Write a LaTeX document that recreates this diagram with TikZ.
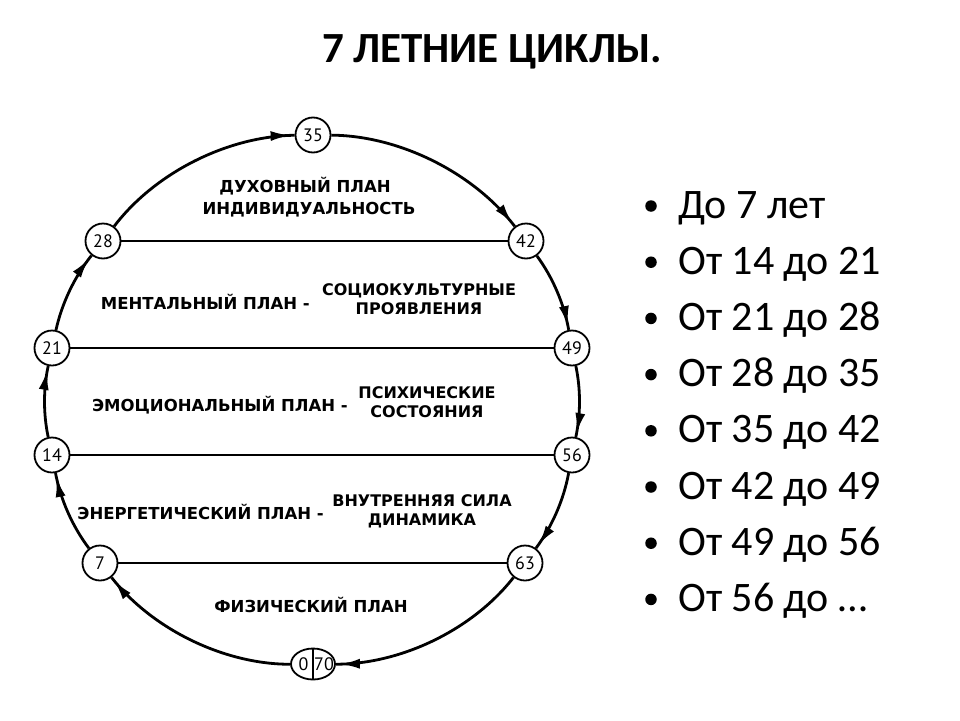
\documentclass[tikz,border=0pt]{standalone}
\usepackage{fontspec}
\setmainfont{Carlito}
\newfontfamily\diagfont{DejaVu Sans}
\newfontfamily\numfont{PT Sans}
\usetikzlibrary{arrows.meta,decorations.markings,shapes.geometric}
\begin{document}
\begin{tikzpicture}[x=1pt,y=1pt,
  agenode/.style={circle,draw,line width=1.8pt,fill=white,minimum size=35pt,inner sep=0pt,
    font=\numfont\fontsize{18}{18}\selectfont},
  ring/.style={line width=2.8pt,looseness=0.85,postaction={decorate},
    decoration={markings,mark=at position -4pt with {\arrow{Latex[length=20pt,width=10pt]}}}},
  divline/.style={line width=1.5pt},
  lbl/.style={inner sep=0pt,font=\diagfont\bfseries\fontsize{16.5}{16.5}\selectfont},
  lbltwo/.style={inner sep=0pt,align=center,font=\diagfont\bfseries\fontsize{16}{19}\selectfont},
  bul/.style={anchor=base west,inner sep=0pt,font=\fontsize{42}{42}\selectfont},
  bulmark/.style={circle,fill=black,inner sep=0pt,minimum size=11.5pt}
]
\useasboundingbox[fill=white] (0,0) rectangle (960,-720);

% title
\node[font=\bfseries\fontsize{43}{43}\selectfont] (title) at (492,-52) {7 ЛЕТНИЕ ЦИКЛЫ.};

% age nodes
\node[agenode] (n35) at (313,-135) {35};
\node[agenode] (n42) at (526,-241) {42};
\node[agenode] (n28) at (103,-241) {28};
\node[agenode] (n21) at (52,-348) {21};
\node[agenode] (n49) at (572,-348) {49};
\node[agenode] (n14) at (52,-455) {14};
\node[agenode] (n56) at (572,-455) {56};
\node[agenode] (n7) at (100,-563) {7};
\node[agenode] (n63) at (525,-563) {63};
\node[ellipse,draw,line width=1.8pt,fill=white,minimum width=44pt,minimum height=31pt,inner sep=0pt] (n70) at (313,-664) {};
\draw[line width=1.4pt] (n70.north) -- (n70.south);
\node[inner sep=0pt,font=\numfont\fontsize{18}{18}\selectfont] (z0) at ([xshift=-9.5pt]n70.center) {0};
\node[inner sep=0pt,font=\numfont\fontsize{18}{18}\selectfont] (z70) at ([xshift=11pt]n70.center) {70};

% ring arcs
\draw[ring] (n70) to[bend left=26] (n7);
\draw[ring] (n7) to[bend left=13] (n14);
\draw[ring] (n14) to[bend left=12] (n21);
\draw[ring] (n21) to[bend left=13] (n28);
\draw[ring] (n28) to[bend left=26] (n35);
\draw[ring] (n35) to[bend left=26] (n42);
\draw[ring] (n42) to[bend left=13] (n49);
\draw[ring] (n49) to[bend left=12] (n56);
\draw[ring] (n56) to[bend left=13] (n63);
\draw[ring] (n63) to[bend left=26] (n70);

% dividing lines
\draw[divline] (n28) -- (n42);
\draw[divline] (n21) -- (n49);
\draw[divline] (n14) -- (n56);
\draw[divline] (n7) -- (n63);

% labels
\node[lbl] (t1) at (305,-186) {ДУХОВНЫЙ ПЛАН};
\node[lbl] (t2) at (309,-210) {ИНДИВИДУАЛЬНОСТЬ};
\node[lbl,anchor=east] (t3) at (310,-302) {МЕНТАЛЬНЫЙ ПЛАН -};
\node[lbltwo] (t4) at (419,-299) {СОЦИОКУЛЬТУРНЫЕ\\ПРОЯВЛЕНИЯ};
\node[lbl,anchor=east] (t5) at (348,-405) {ЭМОЦИОНАЛЬНЫЙ ПЛАН -};
\node[lbltwo] (t6) at (427,-402) {ПСИХИЧЕСКИЕ\\СОСТОЯНИЯ};
\node[lbl,anchor=east] (t7) at (324,-512) {ЭНЕРГЕТИЧЕСКИЙ ПЛАН -};
\node[lbltwo] (t8) at (422,-511) {ВНУТРЕННЯЯ СИЛА\\ДИНАМИКА};
\node[lbl] (t9) at (311,-605) {ФИЗИЧЕСКИЙ ПЛАН};

% bullet list
\foreach \t [count=\i] in {До 7 лет,От 14 до 21,От 21 до 28,От 28 до 35,От 35 до 42,От 42 до 49,От 49 до 56,От 56 до …}{
  \node[bulmark] (m\i) at (651,{-206-56.2*(\i-1)}) {};
  \node[bul] (b\i) at (678,{-218-56.2*(\i-1)}) {\t};
}
\end{tikzpicture}
\end{document}
